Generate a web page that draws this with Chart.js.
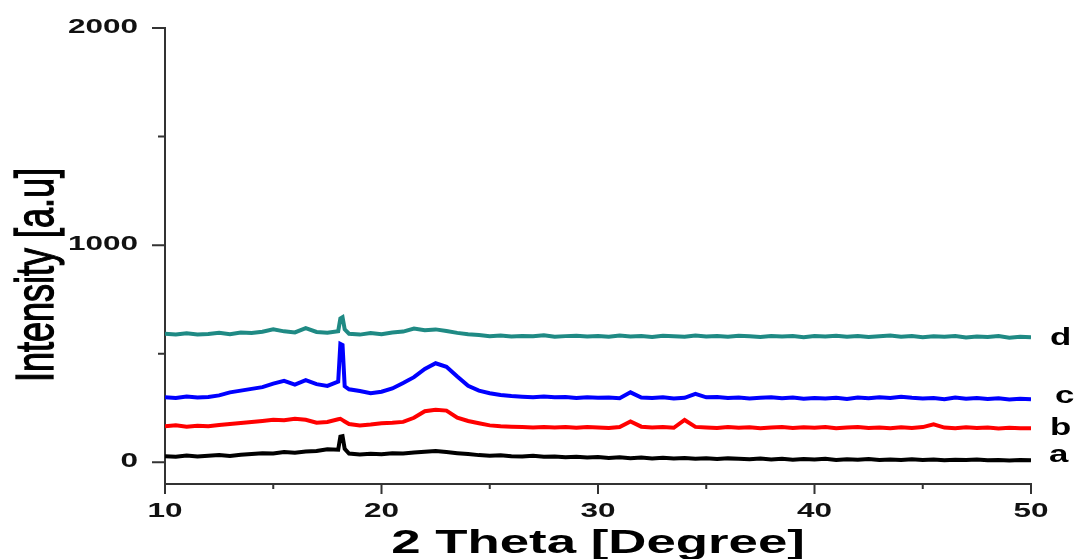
<!DOCTYPE html>
<html>
<head>
<meta charset="utf-8">
<script src="https://cdn.jsdelivr.net/npm/chart.js@4"></script>
<style>
  body { margin: 0; background: #ffffff; }
  canvas { display: block; }
</style>
</head>
<body>
<canvas id="xrdChart" width="1078" height="559"></canvas>
<script>
// 2 Theta positions (degrees), shared by all four patterns
const twoTheta = [
  10, 10.5, 11, 11.5, 12, 12.5, 13, 13.5, 14, 14.5,
  15, 15.5, 16, 16.5, 17, 17.5, 18, 18.1, 18.2, 18.3,
  18.5, 19, 19.5, 20, 20.5, 21, 21.5, 22, 22.5, 23,
  23.5, 24, 24.5, 25, 25.5, 26, 26.5, 27, 27.5, 28,
  28.5, 29, 29.5, 30, 30.5, 31, 31.5, 32, 32.5, 33,
  33.5, 34, 34.5, 35, 35.5, 36, 36.5, 37, 37.5, 38,
  38.5, 39, 39.5, 40, 40.5, 41, 41.5, 42, 42.5, 43,
  43.5, 44, 44.5, 45, 45.5, 46, 46.5, 47, 47.5, 48,
  48.5, 49, 49.5, 50
];

// Intensity [a.u]
const patternD = [
  592, 588, 594, 589, 591, 596, 590, 598, 595, 601,
  612, 603, 598, 618, 600, 597, 604, 662, 668, 612,
  592, 588, 595, 590, 598, 602, 616, 608, 612, 605,
  596, 590, 586, 581, 584, 579, 582, 580, 585, 578,
  581, 583, 579, 582, 578, 584, 579, 581, 577, 583,
  580, 578, 584, 579, 581, 578, 583, 580, 577, 582,
  579, 581, 576, 582, 579, 583, 578, 581, 577, 580,
  584, 578, 581, 576, 580, 578, 582, 575, 579, 577,
  581, 574, 578, 576
];
const patternC = [
  300, 296, 303, 298, 301, 308, 322, 330, 338, 346,
  362, 375, 358, 378, 360, 352, 372, 545, 540, 350,
  336, 328, 318, 325, 340, 365, 392, 430, 456, 440,
  395, 352, 330, 318, 310, 305, 302, 300, 303, 299,
  301, 296, 300, 297, 298, 295, 322, 298, 296, 300,
  294, 297, 315, 299, 301, 296, 298, 294, 297, 300,
  295, 298, 293, 296, 294, 297, 292, 298, 295, 300,
  296, 302, 297, 294, 296, 290, 298, 293, 296, 292,
  295, 289, 293, 290
];
const patternB = [
  166, 170, 164, 168, 166, 172, 176, 181, 185, 190,
  196, 194, 200, 196, 182, 186, 198, 200, 194, 188,
  176, 170, 174, 180, 182, 186, 205, 235, 242, 238,
  205, 190, 180, 170, 166, 164, 162, 160, 163, 160,
  162, 159, 163, 160, 158, 162, 188, 164, 160, 162,
  159, 195, 163, 160, 158, 162, 159, 161, 157, 160,
  162, 158, 161, 159, 162, 157, 160, 163, 158, 160,
  157, 161, 158, 162, 175, 160, 157, 161, 158, 160,
  156, 159, 157, 157
];
const patternA = [
  28, 25, 31, 27, 30, 33, 29, 35, 38, 42,
  40, 47, 44, 50, 52, 60, 58, 118, 120, 62,
  40, 36, 39, 37, 42, 40, 45, 48, 52, 47,
  42, 38, 33, 30, 32, 28, 27, 30, 25, 27,
  23, 26, 22, 24, 20, 23, 19, 22, 18, 21,
  17, 20, 16, 19, 15, 18, 16, 14, 17, 13,
  16, 12, 15, 13, 16, 11, 14, 12, 15, 11,
  13, 10, 14, 11, 13, 9, 12, 10, 13, 9,
  11, 8, 11, 9
];

const seriesNames = ['d', 'c', 'b', 'a'];
const seriesColors = ['#1f8a84', '#0000ff', '#ff0000', '#000000'];

// axis ticks and labels
const xMajorTicks = [10, 20, 30, 40, 50];
const xMinorTicks = [15, 25, 35, 45];
const yMajorTicks = [0, 1000, 2000];
const yMinorTicks = [500, 1500];
const xTitle = '2 Theta [Degree]';
const yTitle = 'Intensity [a.u]';

const axisColor = '#333333';
const STRETCH = 1.5; // text in the picture is widened

function toPoints(values) {
  return twoTheta.map((t, i) => ({ x: t, y: values[i] }));
}

function stretchedText(ctx, text, x, y, sx, align) {
  ctx.save();
  ctx.translate(x, y);
  ctx.scale(sx, 1);
  ctx.textAlign = align;
  ctx.fillText(text, 0, 0);
  ctx.restore();
}

const labelBaseline = { d: 345, c: 403, b: 435, a: 462 };
const labelLeft = { d: 1050, c: 1055, b: 1050, a: 1049 };

const xrdAxes = {
  id: 'xrdAxes',
  afterDraw(chart) {
    const { ctx, chartArea } = chart;
    const xs = chart.scales.x;
    const ys = chart.scales.y;
    ctx.save();
    ctx.strokeStyle = axisColor;
    ctx.lineWidth = 2;
    ctx.beginPath();
    xMajorTicks.forEach(v => {
      const px = xs.getPixelForValue(v);
      ctx.moveTo(px, chartArea.bottom); ctx.lineTo(px, chartArea.bottom + 10);
    });
    xMinorTicks.forEach(v => {
      const px = xs.getPixelForValue(v);
      ctx.moveTo(px, chartArea.bottom); ctx.lineTo(px, chartArea.bottom + 5);
    });
    yMajorTicks.forEach(v => {
      const py = ys.getPixelForValue(v);
      ctx.moveTo(chartArea.left - 13, py); ctx.lineTo(chartArea.left, py);
    });
    yMinorTicks.forEach(v => {
      const py = ys.getPixelForValue(v);
      ctx.moveTo(chartArea.left - 7, py); ctx.lineTo(chartArea.left, py);
    });
    ctx.stroke();

    ctx.fillStyle = '#111111';
    ctx.textBaseline = 'alphabetic';
    ctx.font = 'bold 21px "Liberation Sans", Arial, sans-serif';
    xMajorTicks.forEach(v => {
      stretchedText(ctx, String(v), xs.getPixelForValue(v), chartArea.bottom + 33, STRETCH, 'center');
    });
    yMajorTicks.forEach(v => {
      stretchedText(ctx, String(v), chartArea.left - 27, ys.getPixelForValue(v) + 5, STRETCH, 'right');
    });

    // x title
    ctx.fillStyle = '#000000';
    ctx.font = 'bold 33px "Liberation Sans", Arial, sans-serif';
    stretchedText(ctx, xTitle, (chartArea.left + chartArea.right) / 2, 553, 1.6, 'center');

    // y title, rotated and widened across its height
    ctx.font = '36px "Liberation Sans", Arial, sans-serif';
    ctx.save();
    ctx.translate(53, 275);
    ctx.scale(STRETCH, 1);
    ctx.rotate(-Math.PI / 2);
    ctx.textAlign = 'center';
    ctx.strokeStyle = '#000000';
    ctx.lineWidth = 0.9;
    ctx.fillText(yTitle, 0, 0);
    ctx.strokeText(yTitle, 0, 0);
    ctx.restore();

    // pattern letters at the right end
    ctx.font = 'bold 24px "Liberation Sans", Arial, sans-serif';
    seriesNames.forEach(name => {
      stretchedText(ctx, name, labelLeft[name], labelBaseline[name], 1.45, 'left');
    });
    ctx.restore();
  }
};

const patterns = [patternD, patternC, patternB, patternA];

new Chart(document.getElementById('xrdChart'), {
  type: 'line',
  data: {
    datasets: patterns.map((p, i) => ({
      label: seriesNames[i],
      data: toPoints(p),
      borderColor: seriesColors[i],
      borderWidth: 4,
      pointRadius: 0,
      tension: 0,
      fill: false
    }))
  },
  options: {
    responsive: false,
    animation: false,
    layout: { padding: { left: 0, top: 28, right: 47, bottom: 0 } },
    scales: {
      x: {
        type: 'linear',
        min: 10,
        max: 50,
        afterFit: s => { s.height = 75; },
        grid: { drawOnChartArea: false, drawTicks: false },
        border: { display: true, color: axisColor, width: 2 },
        ticks: { display: false, stepSize: 5 }
      },
      y: {
        min: -100,
        max: 2000,
        afterFit: s => { s.width = 165; },
        grid: { drawOnChartArea: false, drawTicks: false },
        border: { display: true, color: axisColor, width: 2 },
        ticks: { display: false, stepSize: 500 }
      }
    },
    plugins: {
      legend: { display: false },
      tooltip: { enabled: false }
    }
  },
  plugins: [xrdAxes]
});
</script>
</body>
</html>
